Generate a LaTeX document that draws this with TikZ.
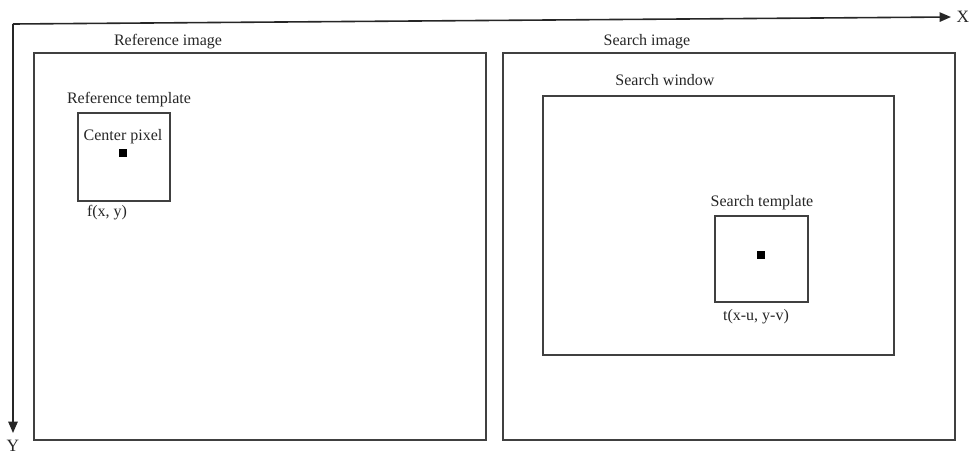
\documentclass[tikz,border=0pt]{standalone}
\usepackage{fontspec}
\setmainfont{Liberation Serif}
\usetikzlibrary{arrows.meta}
\begin{document}
\begin{tikzpicture}[x=0.75pt,y=-0.75pt,
  frame/.style={draw=black!75,line width=1.2pt,inner sep=0pt,anchor=north west},
  lbl/.style={inner sep=0pt,font=\fontsize{12}{14}\selectfont,text=black!85},
  axlbl/.style={inner sep=0pt,font=\fontsize{13}{15}\selectfont,text=black!85},
  dotpx/.style={fill=black,inner sep=0pt,minimum size=5.5pt},
  axis/.style={draw=black!85,line width=1.2pt,-{Triangle[length=8.5pt,width=7pt]}}]
\useasboundingbox (0,0) rectangle (972,457);
% axes
\coordinate (O) at (13,24);
\coordinate (xe) at (951,17);
\coordinate (ye) at (13,433);
\draw[axis] (O) -- (xe);
\draw[axis] (O) -- (ye);
\node[axlbl] (X) at (963,17) {X};
\node[axlbl] (Y) at (13,446) {Y};
% reference image
\node[frame,minimum width=339pt,minimum height=290.25pt] (refimg) at (33,52) {};
\node[lbl] (refimgl) at (168,42) {Reference image};
\node[frame,minimum width=69pt,minimum height=66pt] (reftpl) at (77,112) {};
\node[lbl] (reftpll) at (129,100) {Reference template};
\node[lbl] (cpl) at (123,137) {Center pixel};
\node[dotpx] (cp) at (123,153) {};
\node[lbl] (fxy) at (107,213) {f(x, y)};
% search image
\node[frame,minimum width=339pt,minimum height=290.25pt] (srchimg) at (502,52) {};
\node[lbl] (srchimgl) at (647,42) {Search image};
\node[frame,minimum width=263.25pt,minimum height=194.25pt] (win) at (542,95) {};
\node[lbl] (winl) at (665,80) {Search window};
\node[frame,minimum width=69.75pt,minimum height=64.5pt] (stpl) at (714,215) {};
\node[lbl] (stpll) at (762,203) {Search template};
\node[dotpx] (sp) at (761,255) {};
\node[lbl] (txy) at (756,317) {t(x-u, y-v)};
\end{tikzpicture}
\end{document}
